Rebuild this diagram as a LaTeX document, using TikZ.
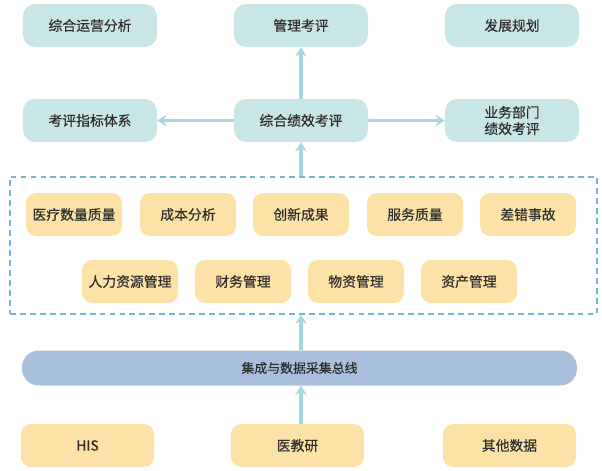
\documentclass[tikz,border=0pt]{standalone}
\usepackage{fontspec}
\setmainfont{Noto Sans CJK SC}[FakeBold=0.45, BoldFont=*, BoldFeatures={FakeBold=0.45}]
\usetikzlibrary{arrows.meta}

\definecolor{tealbox}{HTML}{C9E6E6}
\definecolor{orangebox}{HTML}{FDE2A8}
\definecolor{busbox}{HTML}{A9C0DD}
\definecolor{arrowcol}{HTML}{A5D9E2}
\definecolor{dashcol}{HTML}{72B5D6}
\definecolor{textcol}{HTML}{2E2E2E}

\tikzset{
  tealnode/.style={fill=tealbox, rounded corners=0.36cm, minimum width=4.02cm,
    minimum height=1.29cm, inner sep=0pt, align=center, text=textcol,
    font=\fontsize{11.8}{14}\selectfont\bfseries},
  itemnode/.style={fill=orangebox, rounded corners=0.3cm, minimum width=2.88cm,
    minimum height=1.29cm, inner sep=0pt, text=textcol,
    font=\fontsize{11.8}{14}\selectfont\bfseries},
  srcnode/.style={itemnode, minimum width=3.99cm},
  busnode/.style={fill=busbox, rounded corners=0.5cm, minimum width=16.65cm,
    minimum height=1.05cm, inner sep=0pt, text=textcol,
    font=\fontsize{11}{14}\selectfont\bfseries},
  dashbox/.style={draw=dashcol, line width=1.3pt, dash pattern=on 5pt off 3.5pt,
    minimum width=17.61cm, minimum height=4.11cm, inner sep=0pt},
  arr/.style={draw=arrowcol, line width=3pt,
    -{Stealth[length=8pt, width=10pt, inset=3pt]}},
}

\begin{document}
\begin{tikzpicture}[x=0.03cm, y=-0.03cm]
  \useasboundingbox (0,0) rectangle (602,471);

  % top row
  \node[tealnode] (yunying) at (90,25.5) {综合运营分析};
  \node[tealnode] (guanli) at (301,25.5) {管理考评};
  \node[tealnode] (fazhan) at (512,25.5) {发展规划};

  % middle row
  \node[tealnode] (zhibiao) at (90,120.5) {考评指标体系};
  \node[tealnode] (jixiao) at (301,120.5) {综合绩效考评};
  \node[tealnode] (bumen) at (512,120.5) {业务部门\\绩效考评};

  % data area
  \node[dashbox] (area) at (303.5,245.5) {};

  \node[itemnode] (yiliao) at (74,214.5) {医疗数量质量};
  \node[itemnode] (chengben) at (188,214.5) {成本分析};
  \node[itemnode] (chuangxin) at (301,214.5) {创新成果};
  \node[itemnode] (fuwu) at (415,214.5) {服务质量};
  \node[itemnode] (chacuo) at (528,214.5) {差错事故};

  \node[itemnode] (renli) at (130,281.5) {人力资源管理};
  \node[itemnode] (caiwu) at (243,281.5) {财务管理};
  \node[itemnode] (wuzi) at (356,281.5) {物资管理};
  \node[itemnode] (zichan) at (469,281.5) {资产管理};

  % bus
  \node[busnode] (bus) at (299.5,368) {集成与数据采集总线};

  % sources
  \node[srcnode] (his) at (87.5,445.5) {HIS};
  \node[srcnode] (yijiao) at (297.5,445.5) {医教研};
  \node[srcnode] (qita) at (509.5,445.5) {其他数据};

  % arrows
  \draw[arr] (jixiao.north) -- (guanli.south);
  \draw[arr] (jixiao.west) -- (zhibiao.east);
  \draw[arr] (jixiao.east) -- (bumen.west);
  \draw[arr] (area.north -| jixiao) -- (jixiao.south);
  \draw[arr] (bus.north -| jixiao) -- (area.south -| jixiao);
  \draw[arr] (yijiao.north -| jixiao) -- (bus.south -| jixiao);
\end{tikzpicture}
\end{document}
